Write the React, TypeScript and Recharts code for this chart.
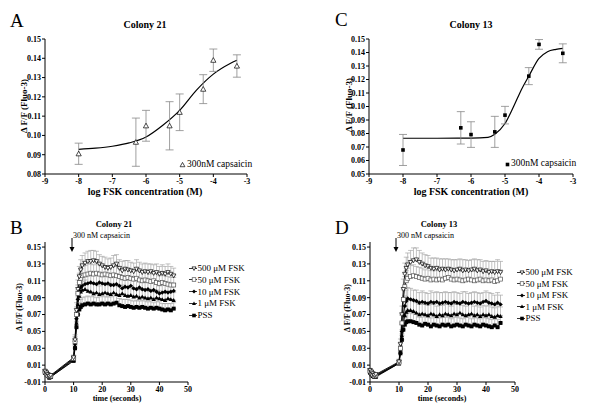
import React from 'react'
import { ComposedChart, LineChart, Line, Scatter, XAxis, YAxis, ErrorBar } from 'recharts'

const FONT = '"Liberation Serif", "Times New Roman", serif'

// dose-response panels (A, C)
const logFsk = [-8, -6.3, -6, -5.3, -5, -4.3, -4, -3.3]
const col21Mean = [0.0905, 0.0965, 0.105, 0.105, 0.112, 0.124, 0.139, 0.136]
const col21Sem = [0.0055, 0.0125, 0.008, 0.0125, 0.0095, 0.0075, 0.0058, 0.0058]
const col13Mean = [0.0678, 0.0842, 0.0792, 0.0812, 0.0936, 0.1225, 0.146, 0.1394]
const col13Sem = [0.0115, 0.012, 0.0095, 0.0115, 0.0065, 0.0063, 0.0036, 0.007]

// fitted curves
const fit21X = [-8, -7.5, -7, -6.5, -6, -5.5, -5, -4.5, -4, -3.5, -3.3]
const fit21Y = [0.0928, 0.0934, 0.0944, 0.0961, 0.0992, 0.1053, 0.113, 0.1235, 0.1318, 0.1373, 0.139]
const fit13X = [-8, -7, -6, -5.5, -5.3, -5, -4.75, -4.5, -4.3, -4, -3.75, -3.5, -3.3]
const fit13Y = [0.0765, 0.0765, 0.0766, 0.0772, 0.0795, 0.0874, 0.0998, 0.1134, 0.1225, 0.1356, 0.1406, 0.1423, 0.143]

const logTicks = [-9, -8, -7, -6, -5, -4, -3]
const ticks21 = [0.08, 0.09, 0.1, 0.11, 0.12, 0.13, 0.14, 0.15]
const ticks13 = [0.05, 0.06, 0.07, 0.08, 0.09, 0.1, 0.11, 0.12, 0.13, 0.14, 0.15]

// time course panels (B, D)
const timeSec = [0, 0.5, 1, 1.5, 2, 10, 10.5, 11, 11.5, 12, 12.5,
  13, 14, 15, 16, 17, 18, 19, 20, 21, 22, 23, 24, 25, 26, 27, 28, 29, 30,
  31, 32, 33, 34, 35, 36, 37, 38, 39, 40, 41, 42, 43, 44, 45]
const timeTicks = [0, 10, 20, 30, 40, 50]
const dffTicks = [-0.01, 0.01, 0.03, 0.05, 0.07, 0.09, 0.11, 0.13, 0.15]

const fskLabels = ['500 μM FSK', '50 μM FSK', '10 μM FSK', '1 μM FSK', 'PSS']
const fskMarkers = ['triDown', 'openSquare', 'diamond', 'triUp', 'square']

// Colony 21
const b500 = [0.003, 0.001, -0.001, -0.003, -0.002, 0.019, 0.04, 0.075, 0.1, 0.115, 0.123,
  0.128, 0.131, 0.133, 0.133, 0.134, 0.133, 0.13, 0.128, 0.126, 0.125, 0.126, 0.128, 0.13, 0.125, 0.122, 0.124, 0.123, 0.122,
  0.121, 0.124, 0.122, 0.12, 0.121, 0.12, 0.121, 0.119, 0.12, 0.118, 0.119, 0.118, 0.12, 0.118, 0.116]
const b50 = [0.002, 0.0, -0.002, -0.003, -0.003, 0.018, 0.038, 0.07, 0.095, 0.108, 0.113,
  0.116, 0.117, 0.118, 0.119, 0.118, 0.119, 0.118, 0.117, 0.118, 0.117, 0.116, 0.117, 0.116, 0.115, 0.114, 0.113, 0.114, 0.113,
  0.112, 0.113, 0.111, 0.11, 0.111, 0.11, 0.109, 0.11, 0.108, 0.107, 0.108, 0.107, 0.106, 0.105, 0.105]
const b10 = [0.002, 0.001, -0.002, -0.004, -0.003, 0.017, 0.035, 0.065, 0.088, 0.098, 0.102,
  0.104, 0.106, 0.107, 0.108, 0.107, 0.106, 0.108, 0.107, 0.106, 0.107, 0.105, 0.105, 0.106, 0.104, 0.101, 0.103, 0.102, 0.104,
  0.101, 0.1, 0.102, 0.1, 0.099, 0.1, 0.098, 0.099, 0.097, 0.095, 0.096, 0.097, 0.096, 0.097, 0.098]
const b1 = [0.001, 0.0, -0.002, -0.004, -0.004, 0.016, 0.033, 0.06, 0.082, 0.092, 0.097,
  0.099, 0.1, 0.098, 0.097, 0.095, 0.096, 0.094, 0.095, 0.096, 0.095, 0.094, 0.096, 0.094, 0.093, 0.095, 0.093, 0.092, 0.093,
  0.091, 0.092, 0.09, 0.091, 0.09, 0.089, 0.09, 0.088, 0.09, 0.089, 0.088, 0.087, 0.089, 0.088, 0.087]
const bPss = [0.001, -0.001, -0.003, -0.005, -0.004, 0.015, 0.03, 0.055, 0.07, 0.076, 0.079,
  0.081, 0.082, 0.083, 0.082, 0.083, 0.082, 0.082, 0.083, 0.082, 0.083, 0.082, 0.083, 0.084, 0.081, 0.08, 0.079, 0.08, 0.079,
  0.078, 0.079, 0.078, 0.079, 0.078, 0.077, 0.078, 0.077, 0.078, 0.077, 0.076, 0.075, 0.076, 0.075, 0.077]
const b500Err = [0.002, 0.002, 0.002, 0.002, 0.002, 0.003, 0.006, 0.009, 0.011, 0.012, 0.012,
  0.012, 0.012, 0.012, 0.013, 0.012, 0.012, 0.011, 0.011, 0.012, 0.011, 0.011, 0.012, 0.011, 0.01, 0.011, 0.01, 0.011, 0.01,
  0.01, 0.011, 0.01, 0.01, 0.01, 0.01, 0.009, 0.01, 0.01, 0.009, 0.01, 0.009, 0.01, 0.009, 0.009]
const b50Err = [0.002, 0.002, 0.002, 0.002, 0.002, 0.003, 0.006, 0.009, 0.01, 0.011, 0.011,
  0.011, 0.011, 0.012, 0.011, 0.011, 0.012, 0.011, 0.011, 0.01, 0.011, 0.011, 0.01, 0.011, 0.01, 0.01, 0.011, 0.01, 0.01,
  0.01, 0.009, 0.01, 0.01, 0.009, 0.01, 0.009, 0.009, 0.01, 0.009, 0.009, 0.009, 0.009, 0.009, 0.009]
const b10Err = [0.002, 0.002, 0.002, 0.002, 0.002, 0.003, 0.005, 0.008, 0.01, 0.01, 0.011,
  0.011, 0.011, 0.01, 0.011, 0.01, 0.011, 0.01, 0.01, 0.011, 0.01, 0.01, 0.01, 0.011, 0.01, 0.01, 0.01, 0.009, 0.01,
  0.01, 0.01, 0.009, 0.01, 0.009, 0.009, 0.01, 0.009, 0.009, 0.009, 0.009, 0.009, 0.009, 0.009, 0.009]
const b1Err = [0.002, 0.002, 0.002, 0.002, 0.002, 0.003, 0.005, 0.008, 0.009, 0.01, 0.01,
  0.01, 0.011, 0.01, 0.01, 0.011, 0.01, 0.01, 0.011, 0.01, 0.01, 0.01, 0.011, 0.01, 0.01, 0.01, 0.009, 0.01, 0.01,
  0.009, 0.01, 0.009, 0.009, 0.01, 0.009, 0.009, 0.009, 0.009, 0.009, 0.008, 0.009, 0.009, 0.008, 0.009]
const bPssErr = [0.002, 0.002, 0.002, 0.002, 0.002, 0.003, 0.005, 0.007, 0.008, 0.008, 0.009,
  0.009, 0.009, 0.009, 0.009, 0.009, 0.008, 0.009, 0.009, 0.009, 0.008, 0.009, 0.009, 0.009, 0.008, 0.008, 0.009, 0.008, 0.008,
  0.008, 0.008, 0.008, 0.008, 0.008, 0.008, 0.008, 0.007, 0.008, 0.008, 0.007, 0.008, 0.007, 0.008, 0.007]

// Colony 13
const d500 = [0.004, 0.002, 0.0, -0.002, -0.001, 0.014, 0.035, 0.07, 0.1, 0.118, 0.125,
  0.129, 0.132, 0.134, 0.135, 0.132, 0.13, 0.128, 0.127, 0.125, 0.124, 0.125, 0.123, 0.124, 0.123, 0.124, 0.123, 0.122, 0.123,
  0.124, 0.122, 0.123, 0.122, 0.123, 0.124, 0.122, 0.123, 0.121, 0.122, 0.12, 0.121, 0.12, 0.121, 0.12]
const d50 = [0.003, 0.001, -0.001, -0.003, -0.002, 0.013, 0.03, 0.06, 0.088, 0.103, 0.11,
  0.113, 0.115, 0.116, 0.115, 0.114, 0.113, 0.112, 0.113, 0.111, 0.112, 0.111, 0.112, 0.111, 0.113, 0.114, 0.112, 0.111, 0.112,
  0.111, 0.11, 0.111, 0.112, 0.111, 0.11, 0.111, 0.112, 0.11, 0.111, 0.11, 0.111, 0.109, 0.11, 0.112]
const d10 = [0.002, 0.0, -0.002, -0.003, -0.003, 0.013, 0.028, 0.05, 0.07, 0.08, 0.086,
  0.089, 0.088, 0.087, 0.086, 0.084, 0.085, 0.084, 0.083, 0.085, 0.084, 0.085, 0.083, 0.084, 0.085, 0.084, 0.083, 0.085, 0.084,
  0.083, 0.085, 0.084, 0.083, 0.084, 0.085, 0.084, 0.083, 0.085, 0.086, 0.084, 0.083, 0.082, 0.084, 0.082]
const d1 = [0.002, 0.0, -0.002, -0.004, -0.003, 0.012, 0.026, 0.045, 0.06, 0.069, 0.073,
  0.075, 0.075, 0.074, 0.072, 0.07, 0.071, 0.07, 0.069, 0.071, 0.07, 0.068, 0.07, 0.069, 0.071, 0.07, 0.069, 0.071, 0.07,
  0.072, 0.07, 0.069, 0.07, 0.071, 0.069, 0.07, 0.068, 0.07, 0.069, 0.07, 0.068, 0.067, 0.069, 0.068]
const dPss = [0.001, -0.001, -0.003, -0.004, -0.004, 0.012, 0.024, 0.04, 0.052, 0.058, 0.061,
  0.062, 0.062, 0.061, 0.06, 0.058, 0.057, 0.059, 0.058, 0.056, 0.058, 0.057, 0.056, 0.058, 0.057, 0.058, 0.056, 0.057, 0.058,
  0.057, 0.056, 0.058, 0.057, 0.056, 0.058, 0.057, 0.056, 0.058, 0.057, 0.056, 0.055, 0.057, 0.055, 0.06]
const d500Err = [0.002, 0.002, 0.002, 0.002, 0.002, 0.003, 0.006, 0.01, 0.012, 0.013, 0.013,
  0.014, 0.014, 0.015, 0.014, 0.014, 0.013, 0.013, 0.013, 0.012, 0.013, 0.012, 0.013, 0.012, 0.013, 0.012, 0.012, 0.013, 0.012,
  0.012, 0.013, 0.012, 0.012, 0.012, 0.012, 0.013, 0.012, 0.012, 0.012, 0.013, 0.012, 0.013, 0.014, 0.013]
const d50Err = [0.002, 0.002, 0.002, 0.002, 0.002, 0.003, 0.006, 0.009, 0.011, 0.012, 0.012,
  0.012, 0.013, 0.013, 0.012, 0.012, 0.012, 0.011, 0.012, 0.011, 0.012, 0.011, 0.011, 0.012, 0.011, 0.011, 0.012, 0.011, 0.011,
  0.011, 0.011, 0.012, 0.011, 0.011, 0.011, 0.011, 0.012, 0.011, 0.011, 0.011, 0.011, 0.011, 0.012, 0.011]
const d10Err = [0.002, 0.002, 0.002, 0.002, 0.002, 0.003, 0.005, 0.008, 0.01, 0.012, 0.013,
  0.013, 0.013, 0.012, 0.013, 0.012, 0.013, 0.012, 0.012, 0.013, 0.012, 0.012, 0.013, 0.012, 0.012, 0.012, 0.013, 0.012, 0.012,
  0.012, 0.012, 0.013, 0.012, 0.012, 0.012, 0.012, 0.012, 0.011, 0.012, 0.012, 0.012, 0.011, 0.012, 0.011]
const d1Err = [0.002, 0.002, 0.002, 0.002, 0.002, 0.003, 0.005, 0.007, 0.009, 0.011, 0.012,
  0.012, 0.012, 0.012, 0.012, 0.012, 0.011, 0.012, 0.012, 0.011, 0.012, 0.012, 0.011, 0.012, 0.011, 0.012, 0.011, 0.011, 0.012,
  0.011, 0.011, 0.011, 0.012, 0.011, 0.011, 0.011, 0.011, 0.011, 0.011, 0.011, 0.011, 0.011, 0.011, 0.011]
const dPssErr = [0.002, 0.002, 0.002, 0.002, 0.002, 0.003, 0.005, 0.007, 0.008, 0.009, 0.01,
  0.01, 0.01, 0.01, 0.01, 0.009, 0.01, 0.01, 0.009, 0.01, 0.01, 0.009, 0.01, 0.009, 0.01, 0.009, 0.009, 0.01, 0.009,
  0.009, 0.009, 0.009, 0.01, 0.009, 0.009, 0.009, 0.009, 0.009, 0.009, 0.009, 0.009, 0.009, 0.009, 0.009]

const axisTick = { fontSize: 8, fontWeight: 700, fill: '#000', fontFamily: FONT }
const axisLine = { stroke: '#000', strokeWidth: 1 }

function Marker({ kind, cx, cy, s = 2.2 }: { kind: string; cx: number; cy: number; s?: number }) {
  if (cx == null || cy == null) return null
  switch (kind) {
    case 'triDown':
      return <path d={`M${cx - s},${cy - s * 0.8}L${cx + s},${cy - s * 0.8}L${cx},${cy + s}Z`} fill="#fff" stroke="#000" strokeWidth={0.7} />
    case 'triUp':
      return <path d={`M${cx - s},${cy + s * 0.8}L${cx + s},${cy + s * 0.8}L${cx},${cy - s}Z`} fill="#000" />
    case 'openTri':
      return <path d={`M${cx - s},${cy + s * 0.8}L${cx + s},${cy + s * 0.8}L${cx},${cy - s}Z`} fill="#fff" stroke="#000" strokeWidth={0.7} />
    case 'openSquare':
      return <rect x={cx - s * 0.9} y={cy - s * 0.9} width={s * 1.8} height={s * 1.8} fill="#fff" stroke="#555" strokeWidth={0.7} />
    case 'diamond':
      return <path d={`M${cx},${cy - s}L${cx + s},${cy}L${cx},${cy + s}L${cx - s},${cy}Z`} fill="#000" />
    default:
      return <rect x={cx - s * 0.9} y={cy - s * 0.9} width={s * 1.8} height={s * 1.8} fill="#000" />
  }
}

const dotFor = (kind: string) => (p: any) => <Marker key={`m${p.index}`} kind={kind} cx={p.cx} cy={p.cy} />

function Txt({ x, y, size, bold, rotate, anchor = 'middle', children }: any) {
  const tx = anchor === 'middle' ? '-50%' : anchor === 'end' ? '-100%' : '0'
  return (
    <div
      style={{
        position: 'absolute',
        left: x,
        top: y,
        transform: `translate(${tx},-50%)${rotate ? ' rotate(-90deg)' : ''}`,
        fontSize: size,
        fontWeight: bold ? 700 : 400,
        lineHeight: 1,
        whiteSpace: 'nowrap',
        fontFamily: FONT,
        color: '#000',
      }}
    >
      {children}
    </div>
  )
}

function DoseChart({ left, means, sems, fitX, fitY, marker, yDomain, yTicks, marginLeft, marginRight }: any) {
  const pts = logFsk.map((x, i) => ({ x, y: means[i], e: sems[i] }))
  const fit = fitX.map((x: number, i: number) => ({ x, y: fitY[i] }))
  return (
    <div style={{ position: 'absolute', left, top: 0 }}>
      <ComposedChart width={300} height={210} margin={{ top: 39, right: marginRight, bottom: 6, left: marginLeft }}>
        <XAxis type="number" dataKey="x" domain={[-9, -3]} ticks={logTicks} height={30} interval={0}
          tick={axisTick} tickSize={3} tickMargin={1} axisLine={axisLine} tickLine={axisLine} />
        <YAxis type="number" dataKey="y" domain={yDomain} ticks={yTicks} width={40} allowDataOverflow interval={0}
          tick={axisTick} tickSize={3} tickMargin={1} axisLine={axisLine} tickLine={axisLine}
          tickFormatter={(v: number) => v.toFixed(2)} />
        <Line data={fit} dataKey="y" type="monotone" stroke="#000" strokeWidth={1.2} dot={false} isAnimationActive={false} />
        <Scatter data={pts} dataKey="y" isAnimationActive={false}
          shape={(p: any) => <Marker kind={marker} cx={p.cx} cy={p.cy} s={marker === 'square' ? 2 : 2.6} />}>
          <ErrorBar dataKey="e" direction="y" width={4} stroke="#888" strokeWidth={0.8} />
        </Scatter>
      </ComposedChart>
    </div>
  )
}

function TimeChart({ left, series, errs, marginLeft, marginRight }: any) {
  const rows = timeSec.map((t, i) => {
    const row: Record<string, any> = { t }
    series.forEach((s: number[], k: number) => {
      row['s' + k] = s[i]
      row['e' + k] = [0, errs[k][i]]
    })
    return row
  })
  const order = [4, 3, 2, 1, 0]
  return (
    <div style={{ position: 'absolute', left, top: 200 }}>
      <LineChart width={300} height={214} data={rows} margin={{ top: 42, right: marginRight, bottom: 2, left: marginLeft }}>
        <XAxis type="number" dataKey="t" domain={[0, 50]} ticks={timeTicks} height={30} interval={0}
          tick={axisTick} tickSize={3} tickMargin={1} axisLine={axisLine} tickLine={axisLine} />
        <YAxis type="number" domain={[-0.01, 0.156]} ticks={dffTicks} width={40} allowDataOverflow interval={0}
          tick={axisTick} tickSize={3} tickMargin={1} axisLine={axisLine} tickLine={axisLine}
          tickFormatter={(v: number) => v.toFixed(2)} />
        {order.map((k) => (
          <Line key={k} dataKey={'s' + k} type="linear" stroke="#000" strokeWidth={0.9}
            dot={dotFor(fskMarkers[k])} activeDot={false} isAnimationActive={false}>
            <ErrorBar dataKey={'e' + k} direction="y" width={2.5} stroke="#999" strokeWidth={0.6} />
          </Line>
        ))}
      </LineChart>
    </div>
  )
}

function TimeLegend({ left, top, gap }: { left: number; top: number; gap: number }) {
  return (
    <>
      {fskLabels.map((lab, k) => (
        <div key={lab} style={{ position: 'absolute', left, top: top + k * gap, transform: 'translateY(-50%)',
          display: 'flex', alignItems: 'center', fontFamily: FONT, fontSize: 9, lineHeight: 1, whiteSpace: 'nowrap' }}>
          <svg width={8} height={8} style={{ marginRight: 0.5 }}>
            <line x1={0} y1={4} x2={8} y2={4} stroke="#000" strokeWidth={0.8} />
            <Marker kind={fskMarkers[k]} cx={5} cy={4} s={2} />
          </svg>
          <span>{lab}</span>
        </div>
      ))}
    </>
  )
}

function CapsArrow({ x, label }: { x: number; label: string }) {
  return (
    <>
      <svg style={{ position: 'absolute', left: x - 3, top: 238 }} width={6} height={15}>
        <line x1={3} y1={0} x2={3} y2={11} stroke="#000" strokeWidth={1} />
        <path d="M0.5,9 L5.5,9 L3,14 Z" fill="#000" />
      </svg>
      <Txt x={x + 1} y={236} size={8} anchor="start">{label}</Txt>
    </>
  )
}

export default function App() {
  return (
    <div style={{ position: 'absolute', left: 0, top: 0, width: 600, height: 414, background: '#fff', overflow: 'hidden', fontFamily: FONT }}>
      <DoseChart left={0} means={col21Mean} sems={col21Sem} fitX={fit21X} fitY={fit21Y} marker="openTri"
        yDomain={[0.08, 0.15]} yTicks={ticks21} marginLeft={5} marginRight={53} />
      <DoseChart left={300} means={col13Mean} sems={col13Sem} fitX={fit13X} fitY={fit13Y} marker="square"
        yDomain={[0.05, 0.15]} yTicks={ticks13} marginLeft={29} marginRight={27} />
      <TimeChart left={0} series={[b500, b50, b10, b1, bPss]} errs={[b500Err, b50Err, b10Err, b1Err, bPssErr]}
        marginLeft={5} marginRight={112} />
      <TimeChart left={300} series={[d500, d50, d10, d1, dPss]} errs={[d500Err, d50Err, d10Err, d1Err, dPssErr]}
        marginLeft={30} marginRight={85} />

      {/* panel letters */}
      <Txt x={10} y={20} size={19} anchor="start">A</Txt>
      <Txt x={335} y={19} size={19} anchor="start">C</Txt>
      <Txt x={10} y={227} size={19} anchor="start">B</Txt>
      <Txt x={335} y={227} size={19} anchor="start">D</Txt>

      {/* titles */}
      <Txt x={145} y={25} size={10} bold>Colony 21</Txt>
      <Txt x={471} y={25} size={10} bold>Colony 13</Txt>
      <Txt x={114} y={224} size={8.5} bold>Colony 21</Txt>
      <Txt x={439} y={224} size={8.5} bold>Colony 13</Txt>

      {/* axis titles */}
      <Txt x={145} y={192} size={10} bold>log FSK concentration (M)</Txt>
      <Txt x={471} y={192} size={10} bold>log FSK concentration (M)</Txt>
      <Txt x={24} y={106} size={9} bold rotate>Δ F/F (Fluo-3)</Txt>
      <Txt x={349} y={105} size={9} bold rotate>Δ F/F (Fluo-3)</Txt>
      <Txt x={117} y={399} size={8} bold>time (seconds)</Txt>
      <Txt x={442} y={399} size={8} bold>time (seconds)</Txt>
      <Txt x={20} y={307} size={8} bold rotate>Δ F/F (Fluo-3)</Txt>
      <Txt x={348} y={308} size={8} bold rotate>Δ F/F (Fluo-3)</Txt>

      {/* in-plot legends for A and C */}
      <svg style={{ position: 'absolute', left: 179, top: 161 }} width={7} height={7}>
        <Marker kind="openTri" cx={3.5} cy={3.8} s={2.4} />
      </svg>
      <Txt x={187} y={165} size={9.5} anchor="start">300nM capsaicin</Txt>
      <svg style={{ position: 'absolute', left: 504, top: 161 }} width={7} height={7}>
        <Marker kind="square" cx={3.5} cy={3.5} s={2} />
      </svg>
      <Txt x={511} y={164} size={9.5} anchor="start">300nM capsaicin</Txt>

      <CapsArrow x={72} label="300 nM capsaicin" />
      <CapsArrow x={396} label="300 nM capsaicin" />

      <TimeLegend left={189} top={268} gap={11.8} />
      <TimeLegend left={517} top={272} gap={11.6} />
    </div>
  )
}
